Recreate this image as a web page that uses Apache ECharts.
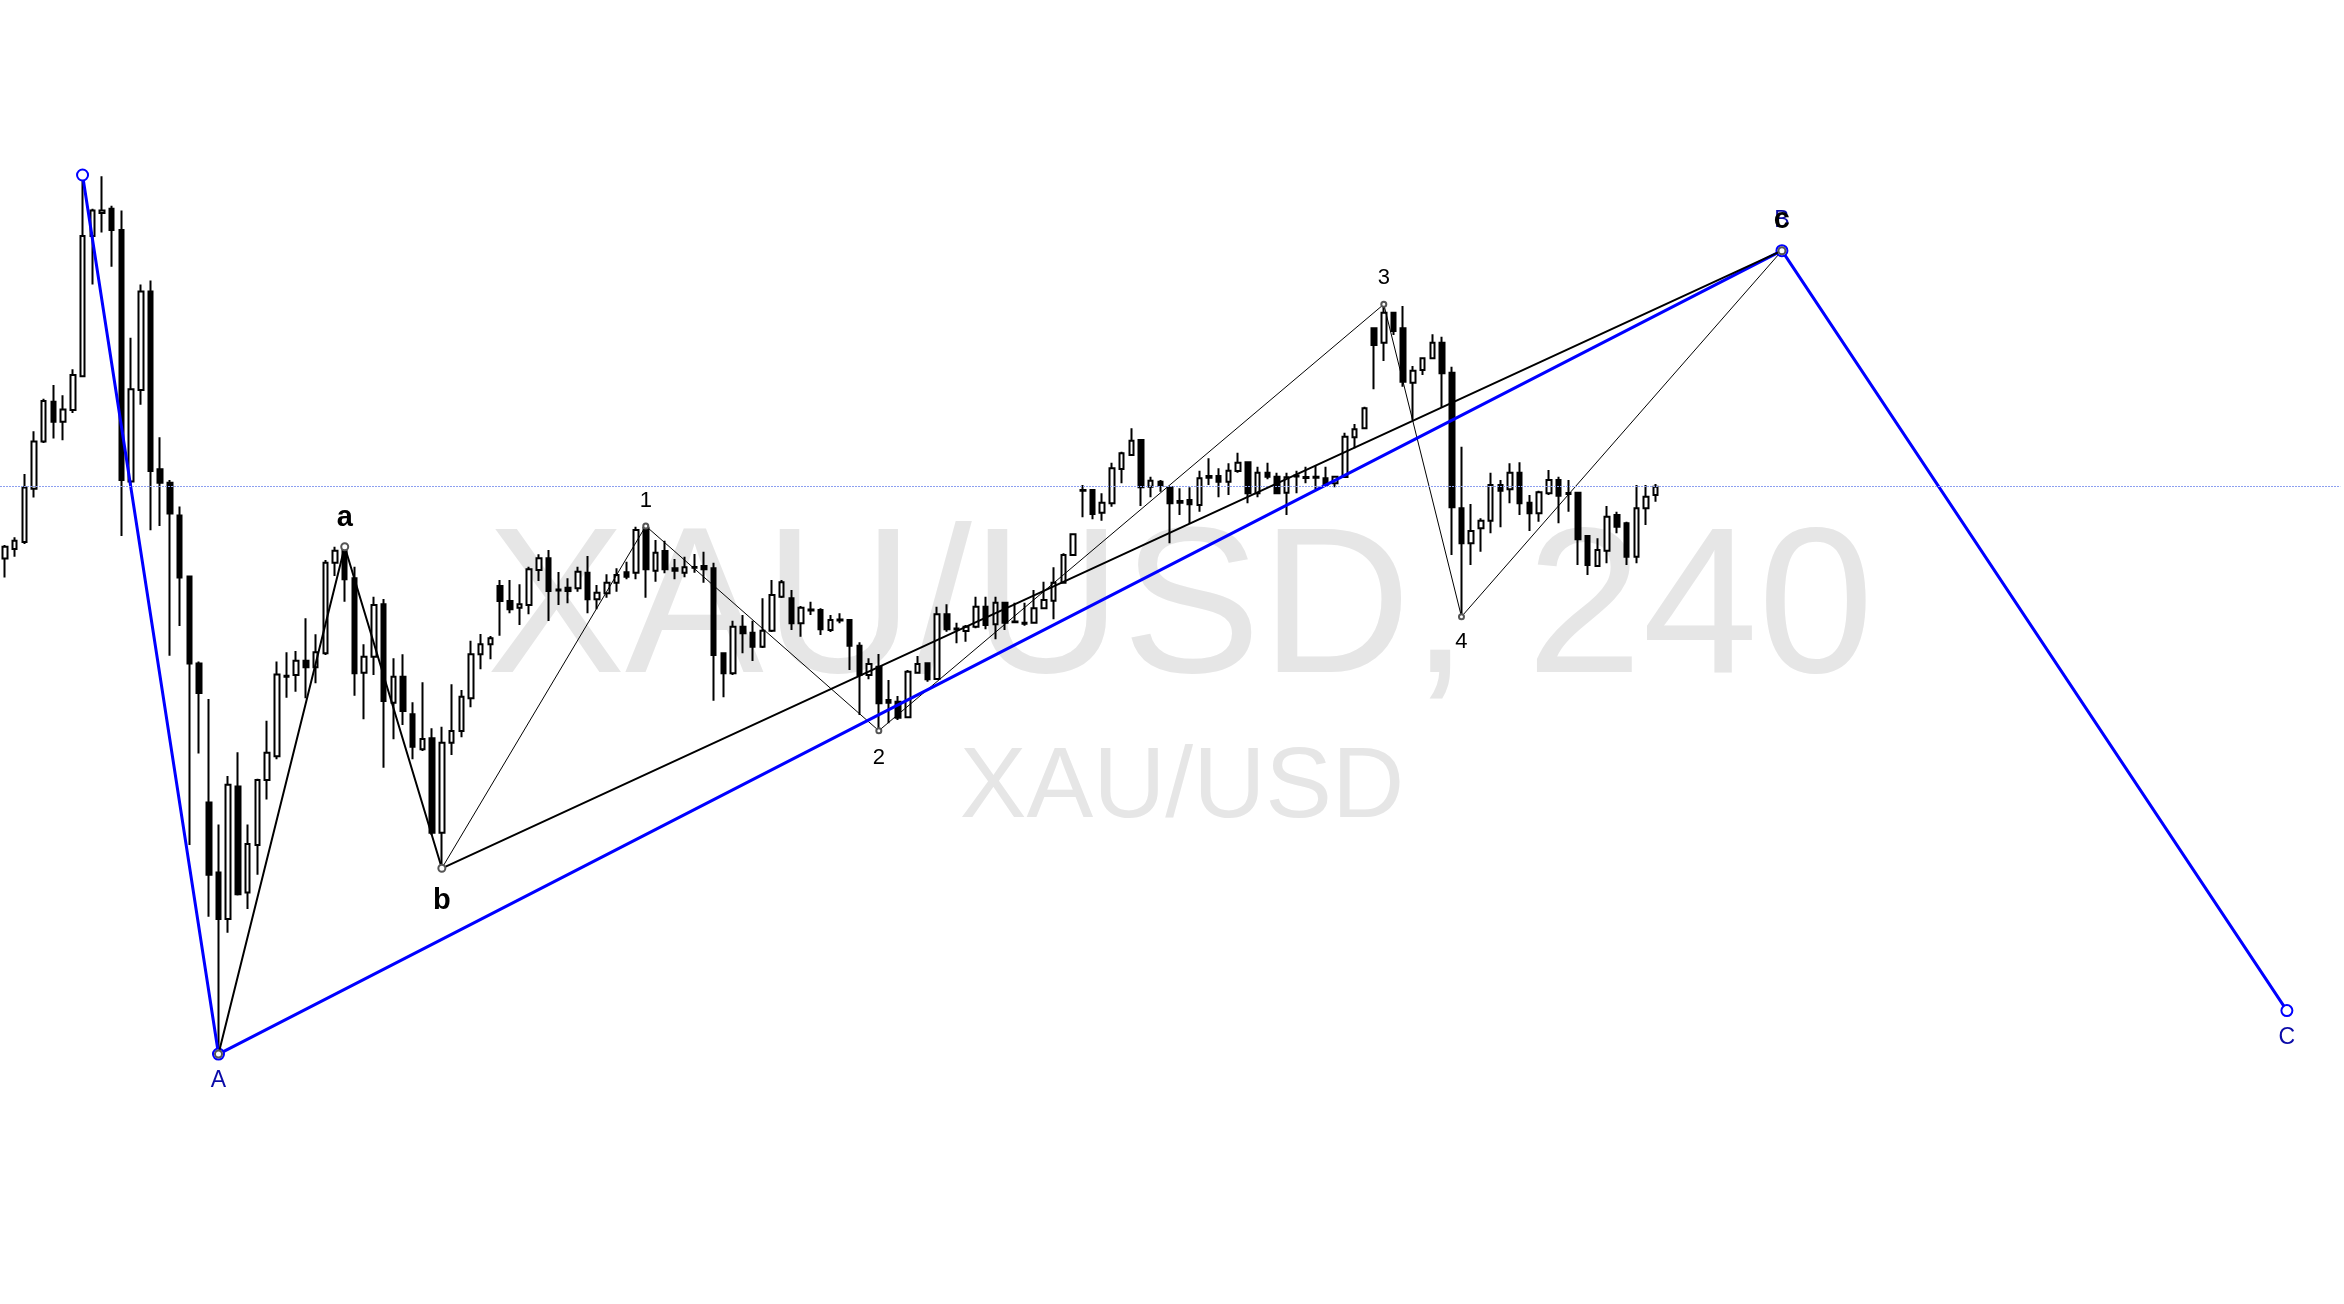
<!DOCTYPE html>
<html>
<head>
<meta charset="utf-8">
<script src="https://cdn.jsdelivr.net/npm/echarts@6/dist/echarts.min.js"></script>
<style>
html,body{margin:0;padding:0;background:#fff;}
#chart{width:2344px;height:1304px;}
</style>
</head>
<body>
<div id="chart"></div>
<script>
// ---- DATA (prices in an assumed XAU/USD scale) ----
const slotCount = 241; // bars + empty space to the right
const categories = Array.from({length: slotCount}, (_, i) => String(i));

const opens = [
2044.14,2045.09,2045.80,2051.13,2055.86,2059.83,2057.82,2059.00,2062.37,2076.40,
2078.71,2079.13,2077.00,2051.84,2061.01,2070.84,2053.08,2051.72,2048.46,2042.36,
2033.66,2019.75,2012.76,2008.09,2021.35,2010.75,2015.49,2022.00,2024.37,2032.43,
2032.50,2033.93,2033.27,2034.67,2043.73,2045.17,2042.17,2032.73,2034.33,2039.57,
2029.73,2032.33,2028.57,2025.07,2026.17,2016.73,2025.73,2026.90,2030.17,2034.57,
2035.57,2041.40,2039.90,2039.23,2039.50,2043.00,2044.17,2041.05,2041.23,2041.17,
2042.73,2040.07,2040.67,2041.73,2042.77,2042.73,2047.23,2042.93,2044.90,2043.17,
2042.73,2043.30,2043.40,2043.17,2034.67,2032.67,2037.33,2036.73,2035.33,2036.93,
2040.33,2040.17,2037.67,2039.05,2039.00,2037.00,2038.05,2038.00,2035.43,2032.50,
2033.33,2030.00,2029.83,2028.27,2032.73,2033.67,2032.10,2038.57,2037.15,2036.90,
2037.33,2039.33,2037.57,2039.73,2037.85,2037.73,2037.73,2039.17,2039.93,2041.73,
2044.50,2051.00,2051.00,2048.73,2049.67,2053.10,2054.50,2056.00,2051.33,2051.83,
2051.27,2049.90,2050.00,2049.50,2052.40,2052.40,2051.83,2052.90,2053.77,2050.67,
2052.73,2052.33,2050.73,2052.45,2052.30,2052.33,2052.17,2051.67,2052.30,2056.27,
2057.17,2067.17,2065.73,2068.73,2067.17,2061.73,2063.00,2064.17,2065.73,2062.73,
2049.17,2045.67,2047.17,2047.93,2051.50,2051.07,2052.73,2049.73,2048.67,2050.67,
2052.00,2050.70,2050.73,2046.40,2043.40,2044.93,2048.50,2047.67,2044.33,2049.17,
2050.50];
const closes = [
2045.32,2045.92,2051.24,2055.86,2059.89,2057.82,2059.06,2062.49,2076.40,2078.95,
2078.95,2077.00,2052.01,2061.07,2070.84,2052.90,2051.72,2048.64,2042.25,2033.66,
2030.70,2012.53,2008.09,2021.53,2010.57,2015.61,2022.00,2024.72,2032.54,2032.33,
2033.93,2033.27,2034.77,2043.73,2044.93,2042.07,2032.67,2034.33,2039.50,2029.90,
2032.33,2028.90,2025.33,2026.10,2016.73,2025.73,2026.90,2030.33,2034.57,2035.57,
2036.17,2039.90,2039.07,2039.57,2043.07,2044.17,2040.90,2040.95,2040.90,2042.83,
2040.07,2040.73,2041.73,2042.50,2042.33,2047.00,2043.07,2044.73,2043.07,2042.93,
2043.27,2043.23,2043.07,2034.50,2032.67,2037.33,2036.67,2035.33,2036.93,2040.50,
2041.77,2037.67,2039.23,2038.95,2037.07,2038.00,2037.95,2035.43,2032.50,2033.60,
2029.67,2029.73,2028.23,2032.83,2033.60,2032.07,2038.57,2037.07,2037.05,2037.33,
2039.33,2037.50,2039.73,2037.73,2037.77,2037.63,2039.17,2040.00,2041.73,2044.50,
2046.57,2050.93,2048.60,2049.73,2053.17,2054.67,2055.93,2051.27,2051.93,2051.40,
2049.67,2049.73,2049.57,2052.17,2052.23,2051.83,2052.93,2053.73,2050.67,2052.73,
2052.33,2050.67,2052.27,2052.35,2052.20,2052.23,2051.50,2052.33,2056.33,2057.07,
2059.17,2065.50,2068.73,2066.90,2061.83,2062.93,2064.17,2065.73,2062.67,2049.27,
2045.67,2046.90,2047.93,2051.50,2050.93,2052.73,2049.67,2048.67,2050.77,2052.00,
2050.43,2050.60,2046.07,2043.50,2045.00,2048.33,2047.33,2044.33,2049.17,2050.33,
2051.33];
const lows = [
2042.25,2044.32,2045.60,2050.24,2055.70,2056.16,2055.98,2058.70,2062.30,2071.55,
2076.76,2073.33,2046.39,2051.42,2059.53,2046.98,2047.40,2034.43,2037.39,2015.49,
2024.66,2008.32,1994.59,2006.73,2010.46,2009.09,2012.53,2020.05,2024.07,2030.23,
2030.83,2030.17,2031.67,2034.50,2042.40,2039.83,2030.43,2028.07,2032.50,2023.23,
2026.07,2027.50,2024.07,2024.90,2016.50,2013.17,2024.50,2026.27,2029.27,2033.07,
2034.07,2036.43,2038.67,2037.50,2038.57,2041.90,2037.90,2039.50,2039.67,2040.83,
2038.67,2039.07,2040.23,2040.83,2042.07,2042.07,2040.23,2041.83,2042.67,2042.07,
2042.27,2042.73,2041.73,2029.93,2030.27,2032.50,2034.67,2033.90,2035.20,2036.80,
2040.20,2037.00,2036.33,2038.50,2036.50,2036.80,2037.67,2033.00,2028.50,2032.07,
2026.93,2027.67,2028.00,2028.20,2032.67,2031.83,2032.05,2036.83,2035.67,2035.83,
2037.17,2037.07,2036.07,2037.00,2037.67,2037.43,2037.67,2039.07,2038.07,2041.70,
2044.45,2048.27,2048.07,2047.93,2049.33,2051.67,2054.45,2049.40,2050.27,2050.83,
2045.67,2048.50,2047.60,2048.83,2051.50,2050.27,2050.50,2052.73,2049.67,2050.27,
2052.07,2050.60,2048.50,2050.67,2051.67,2051.07,2051.40,2051.27,2052.25,2055.17,
2057.10,2061.07,2063.90,2066.50,2061.33,2058.00,2062.50,2064.10,2059.27,2044.50,
2038.33,2043.50,2044.83,2046.67,2047.27,2049.67,2048.50,2046.90,2047.83,2050.50,
2047.67,2048.83,2043.50,2042.50,2043.33,2043.67,2046.67,2043.50,2043.67,2047.50,
2049.83];
const highs = [
2045.50,2046.27,2052.61,2056.87,2060.12,2061.49,2060.48,2063.08,2082.50,2079.13,
2082.38,2079.42,2078.95,2066.22,2071.55,2071.96,2056.28,2052.01,2049.35,2042.36,
2033.84,2030.11,2017.56,2022.41,2024.78,2017.56,2022.12,2027.92,2033.84,2034.77,
2034.90,2038.17,2036.57,2044.00,2045.33,2045.33,2043.33,2035.57,2040.33,2040.10,
2034.17,2034.57,2029.77,2031.77,2027.17,2027.33,2031.57,2031.00,2035.93,2036.60,
2036.40,2042.00,2042.00,2041.57,2043.33,2044.57,2045.00,2042.80,2042.17,2043.33,
2044.40,2041.50,2042.57,2043.17,2043.83,2047.33,2047.40,2046.00,2045.93,2044.10,
2044.33,2044.60,2044.83,2043.73,2034.67,2037.93,2038.50,2037.93,2040.17,2042.00,
2042.00,2041.00,2039.40,2039.83,2039.17,2038.50,2038.67,2038.00,2035.77,2034.17,
2034.60,2032.00,2030.40,2033.00,2034.40,2033.73,2039.33,2039.57,2037.73,2037.50,
2040.33,2040.33,2040.33,2039.83,2039.73,2039.73,2041.00,2041.83,2043.27,2044.67,
2046.67,2051.50,2051.00,2050.67,2053.73,2054.83,2057.17,2056.07,2052.33,2052.00,
2051.27,2051.17,2051.27,2052.93,2054.17,2053.17,2053.67,2054.73,2053.83,2053.33,
2053.73,2052.73,2052.73,2052.93,2053.33,2053.40,2053.33,2052.40,2056.73,2057.60,
2059.33,2067.17,2069.57,2068.83,2069.40,2063.40,2064.27,2066.57,2066.33,2063.33,
2055.33,2049.60,2048.17,2052.73,2052.00,2053.67,2053.77,2050.50,2050.93,2053.00,
2052.33,2052.00,2050.73,2046.40,2046.17,2049.40,2048.83,2047.83,2051.50,2051.50,
2051.60];

// Elliott wave pivots: bar index, price, label
const primaryX = [8, 22, 183, 235];
const primaryY = [2082.50, 1994.59, 2074.93, 1998.94];
const primaryLabels = ['', 'A', 'B', 'C'];

const minorX = [22, 35, 45, 183];
const minorY = [1994.59, 2045.33, 2013.17, 2074.93];
const minorLabels = ['', 'a', 'b', 'c'];

const subX = [45, 66, 90, 142, 150, 183];
const subY = [2013.17, 2047.40, 2026.93, 2069.57, 2038.33, 2074.93];
const subLabels = ['', '1', '2', '3', '4', ''];

const lastPrice = 2051.33;
const watermarkMain = 'XAU/USD, 240';
const watermarkSub = 'XAU/USD';

// ---- build ----
const candleData = opens.map((o, i) => [o, closes[i], lows[i], highs[i]]);

function buildPoints(xs, ys, labels, labelStyle, offsets) {
  return xs.map((x, i) => {
    const item = { value: [x, ys[i]] };
    if (labels[i]) {
      item.label = Object.assign({ show: true, formatter: labels[i], position: 'inside', offset: [0, offsets[labels[i]]] }, labelStyle);
    }
    return item;
  });
}

const font = '"Liberation Sans", Arial, sans-serif';
const blue = '#0000ff';

const chart = echarts.init(document.getElementById('chart'), null, { renderer: 'canvas' });
chart.setOption({
  animation: false,
  backgroundColor: '#ffffff',
  grid: { left: -2, right: 3.7, top: 0, bottom: 0, containLabel: false },
  xAxis: { type: 'category', data: categories, boundaryGap: true, show: false },
  yAxis: { type: 'value', min: 1969.6, max: 2100, show: false, splitLine: { show: false } },
  graphic: [
    { type: 'text', z: -10, x: 1180, y: 615, silent: true,
      style: { text: watermarkMain, font: '208px ' + font, fill: '#e6e6e6', textAlign: 'center', textVerticalAlign: 'middle' } },
    { type: 'text', z: -10, x: 1182, y: 789, silent: true,
      style: { text: watermarkSub, font: '100px ' + font, fill: '#e6e6e6', textAlign: 'center', textVerticalAlign: 'middle' } }
  ],
  series: [
    {
      type: 'candlestick',
      data: candleData,
      barWidth: 5,
      z: 2,
      silent: true,
      itemStyle: {
        color: '#ffffff', color0: '#000000',
        borderColor: '#000000', borderColor0: '#000000', borderColorDoji: '#000000',
        borderWidth: 2
      },
      markLine: {
        silent: true,
        symbol: ['none', 'none'],
        label: { show: false },
        lineStyle: { color: '#8c9ff0', width: 1, type: [2, 1] },
        data: [{ yAxis: lastPrice }]
      }
    },
    {
      type: 'line', z: 3, silent: true,
      data: buildPoints(subX, subY, subLabels,
        { color: '#000', fontFamily: font, fontSize: 22 },
        { '1': -25, '2': 27, '3': -26, '4': 25 }),
      lineStyle: { color: '#000', width: 1 },
      symbol: 'emptyCircle', symbolSize: 5, showAllSymbol: true,
      itemStyle: { color: '#555', borderWidth: 1 }
    },
    {
      type: 'line', z: 4, silent: true,
      data: buildPoints(primaryX, primaryY, primaryLabels,
        { color: '#0a0aa8', fontFamily: font, fontSize: 23 },
        { 'A': 27, 'B': -30, 'C': 27 }),
      lineStyle: { color: blue, width: 3 },
      symbol: 'emptyCircle', symbolSize: 11, showAllSymbol: true,
      itemStyle: { color: blue, borderWidth: 1.5 }
    },
    {
      type: 'line', z: 5, silent: true,
      data: buildPoints(minorX, minorY, minorLabels,
        { color: '#000', fontFamily: font, fontSize: 29, fontWeight: 'bold' },
        { 'a': -29, 'b': 33, 'c': -31 }),
      lineStyle: { color: '#000', width: 2 },
      symbol: 'emptyCircle', symbolSize: 7, showAllSymbol: true,
      itemStyle: { color: '#555', borderWidth: 1.2 }
    }
  ]
});
</script>
</body>
</html>
